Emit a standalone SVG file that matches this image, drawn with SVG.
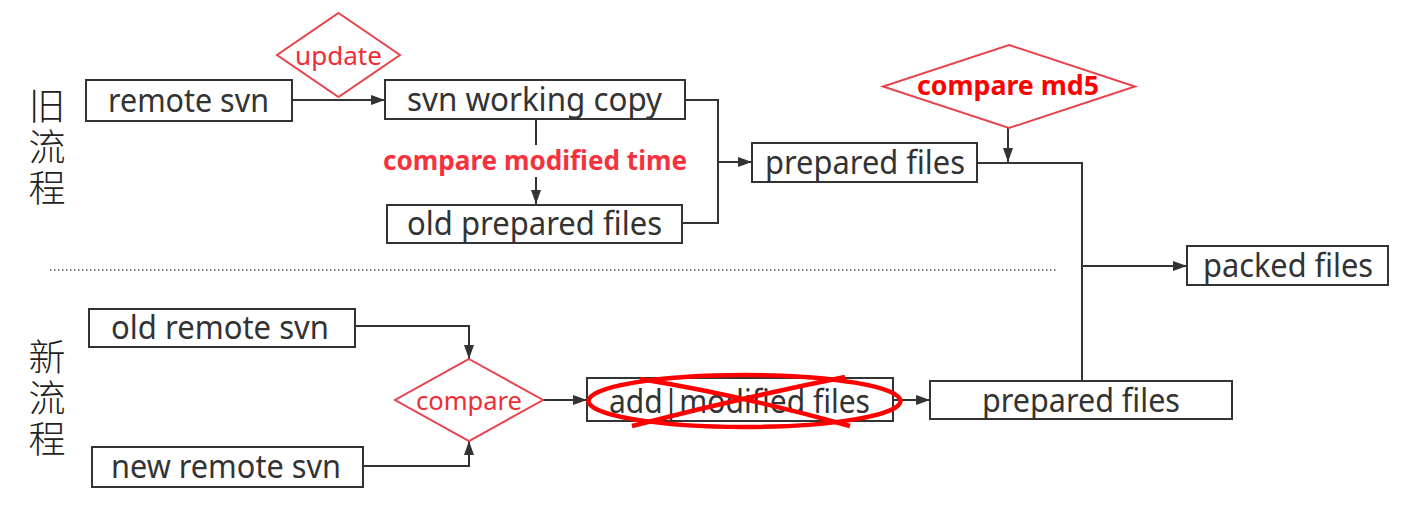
<svg xmlns="http://www.w3.org/2000/svg" width="1408" height="517" viewBox="0 0 1408 517">
<style>
.box{fill:#fff;stroke:#333;stroke-width:2}
.lbl{font-family:"Noto Sans","Liberation Sans",sans-serif;font-size:33px;fill:#333;text-anchor:middle}
.red{font-family:"Noto Sans","Liberation Sans",sans-serif;font-size:26px;fill:#ee2d36;text-anchor:middle}
.redb{font-family:"Noto Sans","Liberation Sans",sans-serif;font-size:26px;font-weight:bold;text-anchor:middle}
.dia{fill:#fff;stroke:#e8424a;stroke-width:2}
.cn{font-family:"Noto Sans CJK SC","Noto Sans CJK JP",serif;font-size:37px;font-weight:300;fill:#222;writing-mode:vertical-rl;text-orientation:upright;letter-spacing:4px}
.conn{fill:none;stroke:#333;stroke-width:2}
</style>
<defs>
<marker id="arr" viewBox="0 0 14 10" refX="14" refY="5" markerWidth="14" markerHeight="10" markerUnits="userSpaceOnUse" orient="auto">
<path d="M0,0 L14,5 L0,10 z" fill="#333"/>
</marker>
</defs>
<rect width="1408" height="517" fill="#fff"/>

<g id="section-labels">
<text class="cn" x="47" y="87">旧流程</text>
<text class="cn" x="47" y="338">新流程</text>
</g>

<g id="connectors">
<line x1="50" y1="270" x2="1057" y2="270" stroke="#555" stroke-width="1.5" stroke-dasharray="1.5 2.5"/>
<path class="conn" d="M292,100 H385" marker-end="url(#arr)"/>
<path class="conn" d="M536,119 V145"/>
<path class="conn" d="M536,177 V204" marker-end="url(#arr)"/>
<path class="conn" d="M685,100 H718 V223 H682"/>
<path class="conn" d="M718,162 H752" marker-end="url(#arr)"/>
<path class="conn" d="M1008,128 V162" marker-end="url(#arr)"/>
<path class="conn" d="M977,163 H1082 V381"/>
<path class="conn" d="M1082,266 H1187" marker-end="url(#arr)"/>
<path class="conn" d="M355,326 H469 V359" marker-end="url(#arr)"/>
<path class="conn" d="M363,466 H469 V441" marker-end="url(#arr)"/>
<path class="conn" d="M543,400 H587" marker-end="url(#arr)"/>
<path class="conn" d="M893,400 H930" marker-end="url(#arr)"/>
</g>

<g id="update">
<polygon class="dia" points="338.5,13 400,55 338.5,97 277,55" stroke="#e8343c"/>
<text class="red" x="338.5" y="65" textLength="87" lengthAdjust="spacingAndGlyphs">update</text>
</g>

<g id="remote-svn">
<rect class="box" x="86" y="80" width="206" height="41"/>
<text class="lbl" x="188.5" y="112" textLength="161" lengthAdjust="spacingAndGlyphs">remote svn</text>
</g>

<g id="svn-working-copy">
<rect class="box" x="385" y="80" width="300" height="39"/>
<text class="lbl" x="534.5" y="111" textLength="255" lengthAdjust="spacingAndGlyphs">svn working copy</text>
</g>

<g id="compare-modified-time">
<text class="redb" x="535" y="170" fill="#f5323e" textLength="304" lengthAdjust="spacingAndGlyphs">compare modified time</text>
</g>

<g id="old-prepared-files">
<rect class="box" x="387" y="205" width="295" height="38"/>
<text class="lbl" x="534.5" y="235" textLength="255" lengthAdjust="spacingAndGlyphs">old prepared files</text>
</g>

<g id="prepared-files-old">
<rect class="box" x="752" y="143" width="225" height="39"/>
<text class="lbl" x="865" y="174" textLength="200" lengthAdjust="spacingAndGlyphs">prepared files</text>
</g>

<g id="compare-md5">
<polygon class="dia" points="1009,45 1135,86.5 1009,128 883,86.5" stroke="#f07074"/>
<text class="redb" x="1008" y="95" fill="#f00" textLength="182" lengthAdjust="spacingAndGlyphs">compare md5</text>
</g>

<g id="packed-files">
<rect class="box" x="1187" y="246" width="201" height="39"/>
<text class="lbl" x="1288" y="277" textLength="170" lengthAdjust="spacingAndGlyphs">packed files</text>
</g>

<g id="old-remote-svn">
<rect class="box" x="89" y="309" width="266" height="38"/>
<text class="lbl" x="220" y="339" textLength="218" lengthAdjust="spacingAndGlyphs">old remote svn</text>
</g>

<g id="new-remote-svn">
<rect class="box" x="92" y="447" width="271" height="40"/>
<text class="lbl" x="226" y="478" textLength="230" lengthAdjust="spacingAndGlyphs">new remote svn</text>
</g>

<g id="compare">
<polygon class="dia" points="469,359 543,400 469,441 395,400" stroke="#e8444c"/>
<text class="red" x="469" y="410" textLength="106" lengthAdjust="spacingAndGlyphs">compare</text>
</g>

<g id="add-modified-files">
<rect class="box" x="587" y="378" width="306" height="43"/>
<text class="lbl" x="739.5" y="413" textLength="261" lengthAdjust="spacingAndGlyphs">add|modified files</text>
<g fill="none" stroke="#f00" stroke-width="4.5">
<ellipse cx="744.5" cy="401" rx="156" ry="26"/>
<path d="M640,379 Q740,395 850,426"/>
<path d="M845,377 Q740,398 632,426"/>
</g>
</g>

<g id="prepared-files-new">
<rect class="box" x="930" y="381" width="302" height="38"/>
<text class="lbl" x="1081" y="412" textLength="198" lengthAdjust="spacingAndGlyphs">prepared files</text>
</g>
</svg>
